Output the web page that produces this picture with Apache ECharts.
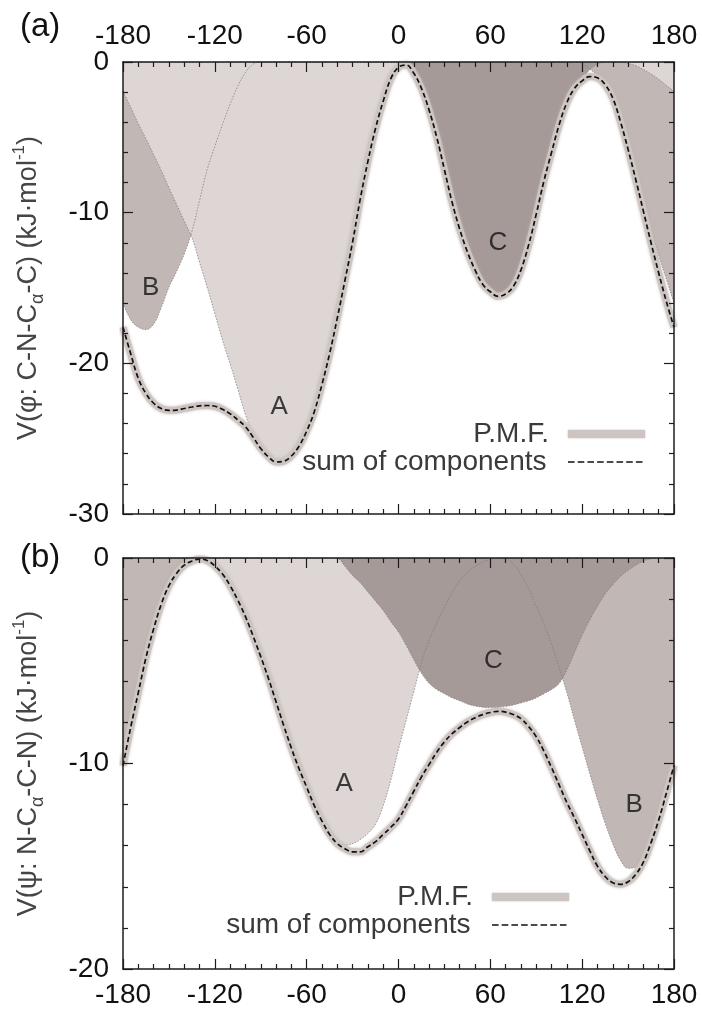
<!DOCTYPE html>
<html>
<head>
<meta charset="utf-8">
<title>Torsional potentials of the backbone dihedrals</title>
<script src="https://cdn.jsdelivr.net/npm/echarts@6/dist/echarts.min.js"></script>
<style>
  html, body { margin: 0; padding: 0; background: #ffffff; }
  #chart { width: 702px; height: 1010px; }
</style>
</head>
<body>
<div id="chart"></div>
<script>
// Dihedral angle grid (degrees) shared by every curve
const angles = [
  -180, -175, -170, -165, -160, -155, -150, -145, -140, -135,
  -130, -125, -120, -115, -110, -105, -100, -95, -90, -85,
  -80, -75, -70, -65, -60, -55, -50, -45, -40, -35,
  -30, -25, -20, -15, -10, -5, 0, 5, 10, 15,
  20, 25, 30, 35, 40, 45, 50, 55, 60, 65,
  70, 75, 80, 85, 90, 95, 100, 105, 110, 115,
  120, 125, 130, 135, 140, 145, 150, 155, 160, 165,
  170, 175, 180];

// (a) phi: potential of mean force and its three well components (kJ/mol)
const phiPmf = [
  -17.6, -19.35, -21.0, -22.0, -22.65, -23.0, -23.12, -23.1, -23.0, -22.9,
  -22.82, -22.8, -22.85, -23.05, -23.35, -23.75, -24.2, -24.9, -25.65, -26.2,
  -26.55, -26.5, -26.15, -25.5, -24.5, -23.2, -21.4, -19.35, -17.0, -14.5,
  -11.95, -9.1, -6.6, -4.4, -2.6, -1.1, -0.35, -0.2, -0.75, -1.75,
  -3.2, -5.0, -7.15, -9.3, -11.1, -12.6, -13.8, -14.75, -15.25, -15.55,
  -15.4, -14.9, -13.8, -12.15, -10.1, -7.9, -6.0, -4.15, -2.7, -1.75,
  -1.25, -0.97, -1.05, -1.5, -2.4, -3.95, -5.8, -7.8, -9.9, -12.0,
  -14.0, -15.9, -17.6];
const phiSum = phiPmf;
const phiA = [
  -1.95, -3.0, -4.1, -5.1, -6.15, -7.2, -8.35, -9.45, -10.55, -11.65,
  -13.3, -14.95, -16.7, -18.45, -20.05, -21.7, -23.4, -24.8, -25.65, -26.2,
  -26.55, -26.5, -26.15, -25.5, -24.5, -23.2, -21.4, -19.35, -17.0, -14.5,
  -11.95, -9.1, -6.6, -4.4, -2.55, -1.0, -0.25, 0, 0, 0,
  0, 0, 0, 0, 0, 0, 0, 0, 0, 0,
  0, 0, 0, 0, 0, 0, 0, 0, 0, 0,
  0, 0, 0, 0, 0, 0, -0.1, -0.25, -0.5, -0.8,
  -1.15, -1.55, -1.95];
const phiB = [
  -16.0, -17.1, -17.6, -17.76, -17.4, -16.3, -14.95, -13.9, -12.75, -11.25,
  -9.2, -7.15, -5.6, -4.15, -2.8, -1.6, -0.7, -0.15, 0, 0,
  0, 0, 0, 0, 0, 0, 0, 0, 0, 0,
  0, 0, 0, 0, 0, 0, 0, 0, 0, 0,
  0, 0, 0, 0, 0, 0, 0, 0, 0, 0,
  0, 0, 0, 0, 0, 0, 0, 0, 0, 0,
  -0.1, -0.47, -0.9, -1.5, -2.4, -3.95, -5.7, -7.55, -9.4, -11.2,
  -12.85, -14.4, -16.0];
const phiC = [
  0, 0, 0, 0, 0, 0, 0, 0, 0, 0,
  0, 0, 0, 0, 0, 0, 0, 0, 0, 0,
  0, 0, 0, 0, 0, 0, 0, 0, 0, 0,
  0, 0, 0, 0, 0, 0, 0, -0.1, -0.75, -1.75,
  -3.2, -5.0, -7.15, -9.3, -11.1, -12.6, -13.8, -14.75, -15.25, -15.55,
  -15.4, -14.9, -13.8, -12.15, -10.1, -7.9, -6.0, -4.15, -2.7, -1.75,
  -1.15, -0.5, -0.15, 0, 0, 0, 0, 0, 0, 0,
  0, 0, 0];

// (b) psi: potential of mean force and its three well components (kJ/mol)
const psiPmf = [
  -10.1, -8.25, -6.55, -4.85, -3.45, -2.25, -1.35, -0.75, -0.35, -0.15,
  -0.05, -0.12, -0.38, -0.78, -1.35, -2.05, -2.85, -3.8, -4.8, -5.85,
  -7.0, -8.15, -9.25, -10.25, -11.15, -12.05, -12.8, -13.45, -13.9, -14.15,
  -14.3, -14.3, -14.05, -13.8, -13.45, -13.1, -12.7, -12.05, -11.35, -10.65,
  -10.05, -9.45, -8.95, -8.55, -8.25, -7.98, -7.78, -7.62, -7.52, -7.46,
  -7.5, -7.62, -7.82, -8.2, -8.7, -9.4, -10.2, -11.05, -11.9, -12.65,
  -13.45, -14.25, -15.0, -15.5, -15.8, -15.88, -15.75, -15.4, -14.8, -13.85,
  -12.75, -11.45, -10.1];
const psiSum = psiPmf;
const psiA = [
  0, 0, 0, 0, 0, 0, 0, 0, 0, 0,
  0, -0.1, -0.38, -0.78, -1.35, -2.05, -2.85, -3.8, -4.8, -5.85,
  -7.0, -8.15, -9.25, -10.25, -11.15, -12.05, -12.8, -13.4, -13.8, -13.97,
  -13.9, -13.7, -13.4, -12.95, -12.05, -10.8, -9.3, -7.9, -6.5, -5.1,
  -4.0, -3.15, -2.4, -1.7, -1.1, -0.7, -0.42, -0.2, -0.07, 0,
  0, 0, 0, 0, 0, 0, 0, 0, 0, 0,
  0, 0, 0, 0, 0, 0, 0, 0, 0, 0,
  0, 0, 0];
const psiB = [
  -10.1, -8.25, -6.55, -4.85, -3.45, -2.25, -1.35, -0.75, -0.35, -0.12,
  0, 0, 0, 0, 0, 0, 0, 0, 0, 0,
  0, 0, 0, 0, 0, 0, 0, 0, 0, 0,
  0, 0, 0, 0, 0, 0, 0, 0, 0, 0,
  0, 0, 0, 0, 0, 0, 0, 0, 0, 0,
  0, -0.3, -0.8, -1.5, -2.35, -3.2, -4.2, -5.35, -6.55, -7.9,
  -9.2, -10.5, -11.75, -12.9, -13.9, -14.7, -15.1, -15.05, -14.65, -13.8,
  -12.75, -11.45, -10.1];
const psiC = [
  0, 0, 0, 0, 0, 0, 0, 0, 0, 0,
  0, 0, 0, 0, 0, 0, 0, 0, 0, 0,
  0, 0, 0, 0, 0, 0, 0, 0, -0.02, -0.4,
  -0.85, -1.2, -1.65, -2.1, -2.55, -3.1, -3.6, -4.25, -4.95, -5.6,
  -6.1, -6.4, -6.6, -6.8, -6.95, -7.1, -7.2, -7.26, -7.28, -7.27,
  -7.22, -7.15, -7.05, -6.95, -6.8, -6.6, -6.4, -6.1, -5.45, -4.6,
  -3.75, -3.0, -2.35, -1.75, -1.3, -0.9, -0.6, -0.35, -0.15, -0.04,
  0, 0, 0];

// Axis tick settings
const angleTicks = { min: -180, max: 180, step: 60 };
const phiRange = { min: -30, max: 0, step: 10 };
const psiRange = { min: -20, max: 0, step: 10 };

const FONT = '"Liberation Sans", Arial, Helvetica, sans-serif';
const INK = '#1c1c1c';
const COL = {
  A: '#ddd6d4',
  B: '#c1b7b5',
  C: '#a69a98',
  edge: '#81797a',
  pmf: '#cdc5c2',
  sum: '#111111'
};

const toPoints = vals => angles.map((x, i) => [x, vals[i]]);

// Legend key for the dashed line: a row of short bars
const DASH = { count: 8, len: 6.6, gap: 3.1, thick: 1.7 };
let dashIcon = 'path://';
for (let i = 0; i < DASH.count; i++) {
  const x0 = (i * (DASH.len + DASH.gap)).toFixed(2);
  dashIcon += `M${x0},0h${DASH.len}v${DASH.thick}h-${DASH.len}z`;
}
const dashIconWidth = DASH.count * DASH.len + (DASH.count - 1) * DASH.gap;

function xAxisDef(gridIndex, position, showLabels) {
  return {
    type: 'value', gridIndex, position, z: 10,
    min: angleTicks.min, max: angleTicks.max, interval: angleTicks.step,
    axisLine: { show: true, onZero: false, lineStyle: { color: INK, width: 1.5 } },
    axisTick: { show: true, inside: true, length: 10, lineStyle: { color: INK, width: 1.2 } },
    minorTick: { show: true, splitNumber: 6, length: 5, lineStyle: { color: INK, width: 1.2 } },
    axisLabel: { show: showLabels, fontFamily: FONT, fontSize: 28, color: '#111', margin: 12 },
    splitLine: { show: false }, minorSplitLine: { show: false }
  };
}

function yAxisDef(gridIndex, position, range, showLabels, name) {
  const ax = {
    type: 'value', gridIndex, position, z: 10,
    min: range.min, max: range.max, interval: range.step,
    axisLine: { show: true, onZero: false, lineStyle: { color: INK, width: 1.5 } },
    axisTick: { show: true, inside: true, length: 10, lineStyle: { color: INK, width: 1.2 } },
    minorTick: { show: true, splitNumber: 5, length: 5, lineStyle: { color: INK, width: 1.2 } },
    axisLabel: { show: showLabels, fontFamily: FONT, fontSize: 28, color: '#111', margin: 14 },
    splitLine: { show: false }, minorSplitLine: { show: false }
  };
  if (name) {
    ax.name = name;
    ax.nameLocation = 'middle';
    ax.nameRotate = 90;
    ax.nameGap = 76;
    ax.nameTextStyle = {
      fontFamily: FONT, fontSize: 27, color: '#454545',
      rich: {
        t: { fontFamily: FONT, fontSize: 27, lineHeight: 36, color: '#454545' },
        s: { fontFamily: FONT, fontSize: 18, color: '#454545', verticalAlign: 'bottom' },
        p: { fontFamily: FONT, fontSize: 17, color: '#454545', verticalAlign: 'top' }
      }
    };
  }
  return ax;
}

// Filled well: shaded from the component curve up to zero
function wellFill(panel, vals, color) {
  return {
    type: 'line', xAxisIndex: panel * 2, yAxisIndex: panel * 2,
    data: toPoints(vals), smooth: 0.4, symbol: 'none', silent: true,
    lineStyle: { width: 0 },
    areaStyle: { color, opacity: 1, origin: 'end' }
  };
}

// Thin dotted outline of a well, kept above every fill
function wellEdge(panel, vals) {
  return {
    type: 'line', xAxisIndex: panel * 2, yAxisIndex: panel * 2,
    data: toPoints(vals), smooth: 0.4, symbol: 'none', silent: true,
    lineStyle: { width: 0.9, color: COL.edge, type: [1.5, 1.5], opacity: 0.85 }
  };
}

function pmfLine(panel, vals) {
  return {
    name: 'P.M.F.', type: 'line', xAxisIndex: panel * 2, yAxisIndex: panel * 2,
    data: toPoints(vals), smooth: 0.4, symbol: 'none', silent: true,
    itemStyle: { color: COL.pmf },
    lineStyle: { width: 7, color: COL.pmf, shadowBlur: 3, shadowColor: 'rgba(190,180,176,0.9)' }
  };
}

function sumLine(panel, vals) {
  return {
    name: 'sum of components', type: 'line', xAxisIndex: panel * 2, yAxisIndex: panel * 2,
    data: toPoints(vals), smooth: 0.4, symbol: 'none', silent: true,
    itemStyle: { color: COL.sum },
    lineStyle: { width: 1.7, color: COL.sum, type: [5, 3] }
  };
}

function wellLabels(panel, items) {
  return {
    type: 'scatter', xAxisIndex: panel * 2, yAxisIndex: panel * 2,
    symbolSize: 1, silent: true, itemStyle: { color: 'rgba(0,0,0,0)' },
    data: items.map(([name, x, y]) => ({ name, value: [x, y] })),
    label: { show: true, position: 'inside', formatter: '{b}', fontFamily: FONT, fontSize: 26, color: '#111' },
    z: 5
  };
}

function legendPmf(right, top) {
  return {
    data: [{ name: 'P.M.F.', icon: 'rect',
             itemStyle: { color: COL.pmf, shadowBlur: 2, shadowColor: 'rgba(190,180,176,0.9)' } }],
    right, top, orient: 'vertical', align: 'right',
    selectedMode: false, itemWidth: 77, itemHeight: 8, padding: 0,
    textStyle: { fontFamily: FONT, fontSize: 28, color: '#3a3a3a', padding: [0, 14, 0, 0] }
  };
}

function legendSum(right, top) {
  return {
    data: [{ name: 'sum of components', icon: dashIcon, itemStyle: { color: COL.sum } }],
    right: right + (77 - dashIconWidth), top, orient: 'vertical', align: 'right',
    selectedMode: false, itemWidth: dashIconWidth, itemHeight: DASH.thick, padding: 0,
    textStyle: { fontFamily: FONT, fontSize: 28, color: '#3a3a3a', padding: [0, 14 + (77 - dashIconWidth), 0, 0] }
  };
}

const option = {
  backgroundColor: '#ffffff',
  animation: false,
  title: [
    { text: '(a)', left: 20, top: 10, padding: 0,
      textStyle: { fontFamily: FONT, fontSize: 33, fontWeight: 'normal', color: '#111' } },
    { text: '(b)', left: 20, top: 541, padding: 0,
      textStyle: { fontFamily: FONT, fontSize: 33, fontWeight: 'normal', color: '#111' } }
  ],
  grid: [
    { left: 123, top: 62, width: 551, height: 452, outerBoundsMode: 'none' },
    { left: 123, top: 558, width: 551, height: 411, outerBoundsMode: 'none' }
  ],
  xAxis: [
    xAxisDef(0, 'top', true),
    xAxisDef(0, 'bottom', false),
    xAxisDef(1, 'bottom', true),
    xAxisDef(1, 'top', false)
  ],
  yAxis: [
    yAxisDef(0, 'left', phiRange, true, '{t|V(φ: C-N-C}{s|α}{t|-C) (kJ·mol}{p|-1}{t|)}'),
    yAxisDef(0, 'right', phiRange, false),
    yAxisDef(1, 'left', psiRange, true, '{t|V(ψ: N-C}{s|α}{t|-C-N) (kJ·mol}{p|-1}{t|)}'),
    yAxisDef(1, 'right', psiRange, false)
  ],
  legend: [
    legendPmf(57, 420),
    legendSum(57, 448),
    legendPmf(133, 883),
    legendSum(133, 911)
  ],
  series: [
    wellFill(0, phiB, COL.B),
    wellFill(0, phiA, COL.A),
    wellFill(0, phiC, COL.C),
    wellEdge(0, phiB),
    wellEdge(0, phiA),
    wellEdge(0, phiC),
    pmfLine(0, phiPmf),
    sumLine(0, phiSum),
    wellLabels(0, [['B', -162, -15.0], ['A', -78, -22.9], ['C', 65, -12.0]]),

    wellFill(1, psiB, COL.B),
    wellFill(1, psiA, COL.A),
    wellFill(1, psiC, COL.C),
    wellEdge(1, psiB),
    wellEdge(1, psiA),
    wellEdge(1, psiC),
    pmfLine(1, psiPmf),
    sumLine(1, psiSum),
    wellLabels(1, [['C', 62, -5.0], ['A', -35.5, -11.0], ['B', 154, -12.0]])
  ]
};

const chart = echarts.init(document.getElementById('chart'), null, { renderer: 'canvas' });
chart.setOption(option);
</script>
</body>
</html>
